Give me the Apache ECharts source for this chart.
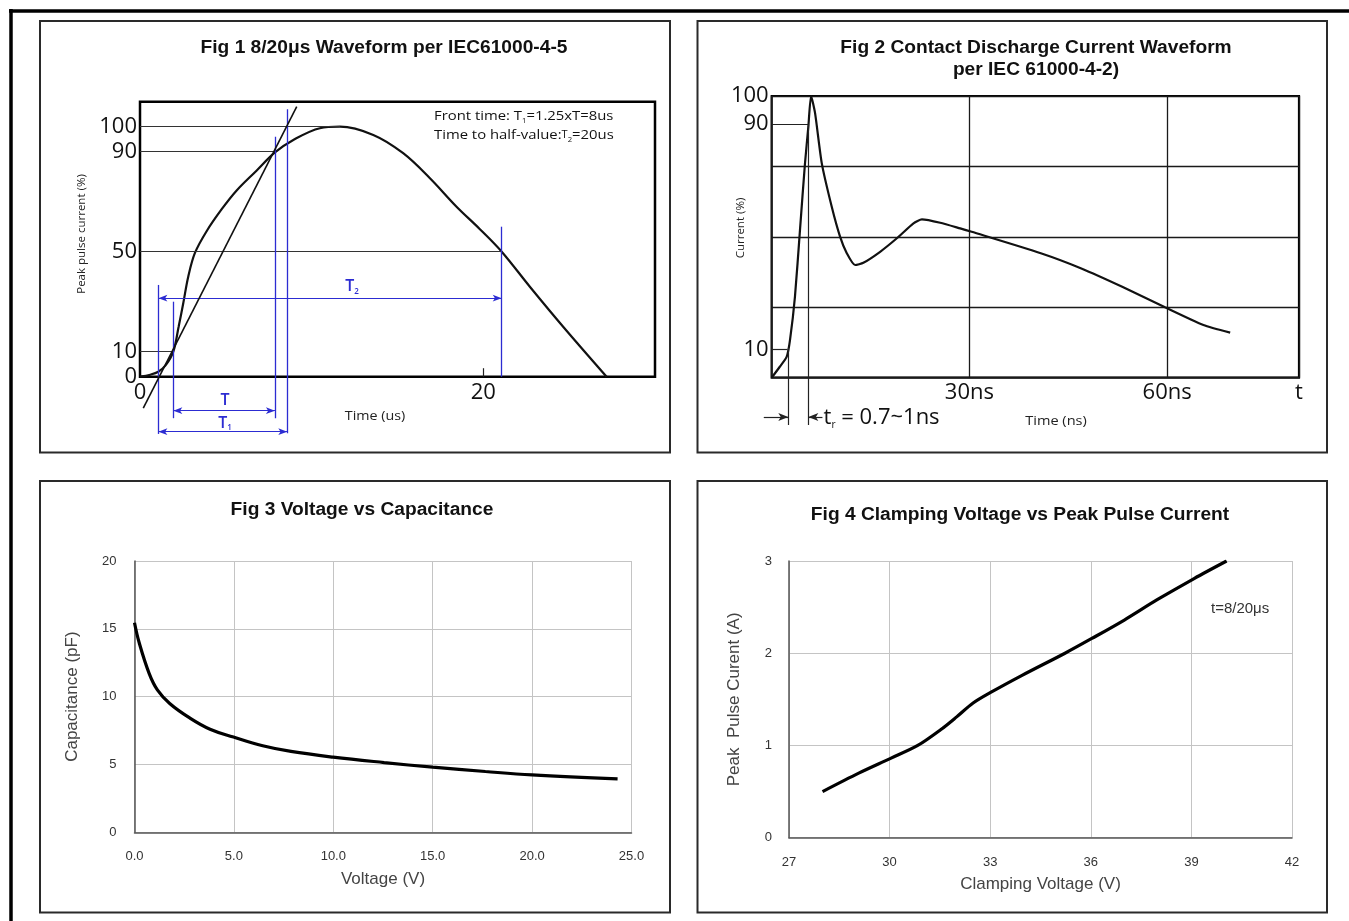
<!DOCTYPE html>
<html>
<head>
<meta charset="UTF-8">
<title>TVS characteristic curves</title>
<script src="https://cdn.jsdelivr.net/npm/echarts@6/dist/echarts.min.js"></script>
<style>
    * { margin: 0; padding: 0; }
    body { background: #fff; }
    #main { width: 1349px; height: 921px; }
</style>
</head>
<body>
<div id="main"></div>
<script>
// ---- Fig 1: 8/20us surge, [time (us), current (%)]
var fig1Wave = [[0, 0], [0.6, 0.8], [1.07, 2], [1.5, 4.6], [1.94, 10], [2.25, 20], [2.52, 29.4], [2.81, 40],
    [3.2, 49.5], [3.88, 58.2], [4.76, 67], [5.63, 74.5], [6.8, 82.5], [7.86, 89.7], [8.93, 94.7], [10.48, 99.4],
    [11.65, 100], [13.59, 96.7], [15.33, 89.4], [16.89, 79.4], [18.44, 68], [19.8, 59], [21.07, 50],
    [22.71, 36], [24.65, 20], [27.18, 0]];
var fig1RefLevel = [100, 90, 50, 10];
var fig1RefEnd = [11.65, 7.86, 21.07, 1.94];
var fig1XTicks = [0, 20];
var fig1YTicks = [0, 10, 50, 90, 100];
// O1, 10%, 90%, end of T1, half value
var fig1MarkX = [1.07, 1.94, 7.86, 8.58, 21.07];
var fig1MarkTop = [36.7, 30, 96, 107, 60];
var fig1MarkBottom = [-22.9, -16.6, -16.6, -22.6, 0];
var fig1Tangent = [[0.19, -12.6], [9.13, 108]];
var fig1Labels = [
    { name: 'T2', value: [12.35, 36] },
    { name: 'T', value: [4.95, -9.3] },
    { name: 'T1', value: [4.95, -18.5] }
];

// ---- Fig 2: ESD contact discharge, [time (ns), current (%)]
var fig2Wave = [[0, 0], [1.2, 3.8], [2.28, 7.5], [2.78, 13.4], [3.53, 28.8], [4.29, 52.4], [5.05, 76.1],
    [5.56, 89.1], [5.97, 100], [6.58, 93.9], [7.6, 76.1], [9.11, 60.7], [10.37, 50.1], [11.39, 44.2],
    [12.65, 40], [13.91, 40.8], [16.45, 44.7], [18.99, 49.5], [21.51, 54.8], [22.79, 56.2], [25.57, 55],
    [28.6, 53], [30.34, 51.8], [40.83, 44.2], [46.98, 38.8], [53.18, 32.3], [59.67, 25], [65.5, 18.7],
    [69.56, 16]];
var fig2RefLevel = [90, 10];
var fig2RefEnd = [5.56, 2.4];
var fig2XTicks = [30, 60, 80];
var fig2XNames = ['30ns', '60ns', 't'];
var fig2YTicks = [10, 90, 100];
var fig2RiseX = [2.52, 5.56];
var fig2RiseTop = [10.6, 90];

// ---- Fig 3: capacitance vs voltage
var fig3Volt = [0, 0.24, 0.74, 1.15, 1.77, 2.78, 3.8, 4.98, 6.45, 7.87, 9.99, 12.56, 15, 17.65, 20, 24.3];
var fig3Cap = [15.45, 13.95, 11.7, 10.5, 9.5, 8.43, 7.6, 7.02, 6.38, 5.96, 5.54, 5.14, 4.8, 4.48, 4.23, 3.94];

// ---- Fig 4: clamping voltage vs peak pulse current
var fig4Volt = [28.0, 29.08, 30.03, 30.84, 31.52, 32.0, 32.49, 33.04, 33.95, 35.23, 36.03, 37.0, 37.98, 39.08, 40.05];
var fig4Curr = [0.5, 0.7, 0.86, 1.0, 1.17, 1.31, 1.46, 1.58, 1.76, 2.0, 2.16, 2.36, 2.58, 2.81, 3.0];

var blue = '#2c2cd2';
var waveFont = 'Open Sans';
var sheetFont = 'Liberation Sans';

function zip(a, b) {
    var out = [];
    for (var i = 0; i < a.length; i++) out.push([a[i], b[i]]);
    return out;
}

function seg(p1, p2, color, width, arrows) {
    var a = arrows || ['none', 'none'];
    return [
        { coord: p1, symbol: a[0], lineStyle: { color: color, width: width, type: 'solid' } },
        { coord: p2, symbol: a[1] }
    ];
}

// fig 1 marker lines
var fig1Refs = fig1RefLevel.map(function (v, i) {
    return seg([0, v], [fig1RefEnd[i], v], '#333', 1);
});
fig1Refs.push(seg([20, 0], [20, 3.4], '#222', 1.2));

var fig1Blue = fig1MarkX.map(function (x, i) {
    return seg([x, fig1MarkTop[i]], [x, fig1MarkBottom[i]], blue, 1.3);
});
var arrowEnds = ['arrow', 'arrow'];
fig1Blue.push(seg([fig1MarkX[0], 31.4], [fig1MarkX[4], 31.4], blue, 1.1, arrowEnds));
fig1Blue.push(seg([fig1MarkX[1], -13.6], [fig1MarkX[2], -13.6], blue, 1.1, arrowEnds));
fig1Blue.push(seg([fig1MarkX[0], -22], [fig1MarkX[3], -22], blue, 1.1, arrowEnds));
fig1Blue.push(seg(fig1Tangent[0], fig1Tangent[1], '#111', 1.6));

// fig 2 marker lines
var fig2Refs = fig2RefLevel.map(function (v, i) {
    return seg([0, v], [fig2RefEnd[i], v], '#222', 1.2);
});
var fig2Rise = fig2RiseX.map(function (x, i) {
    return seg([x, fig2RiseTop[i]], [x, -16.8], '#222', 1.2);
});
fig2Rise.push(seg([-1.2, -14], [fig2RiseX[0], -14], '#222', 1.2, ['none', 'arrow']));
fig2Rise.push(seg([7.7, -14], [fig2RiseX[1], -14], '#222', 1.2, ['none', 'arrow']));

var subRich = {
    m: { fontSize: 16, fontFamily: waveFont, fontWeight: 600, color: blue, lineHeight: 18, verticalAlign: 'middle' },
    s: { fontSize: 8, fontFamily: waveFont, fontWeight: 600, color: blue, lineHeight: 6, verticalAlign: 'bottom' }
};

function text(x, y, str, font, color, extra) {
    var el = {
        type: 'text', x: x, y: y,
        style: {
            text: str, font: font, fill: color,
            align: 'center', verticalAlign: 'middle',
            textAlign: 'center', textVerticalAlign: 'middle'
        }
    };
    if (extra) {
        for (var k in extra) {
            if (k === 'style') {
                for (var s in extra.style) el.style[s] = extra.style[s];
            } else {
                el[k] = extra[k];
            }
        }
    }
    return el;
}

function panel(x, y, w, h) {
    return { type: 'rect', shape: { x: x, y: y, width: w, height: h }, style: { fill: 'none', stroke: '#2a2a2a', lineWidth: 2 } };
}

var noteRich = {
    m: { fontSize: 13.5, fontFamily: waveFont, color: '#111', lineHeight: 16, verticalAlign: 'middle' },
    t: { fontSize: 10, fontFamily: waveFont, color: '#111', lineHeight: 16, verticalAlign: 'middle' },
    s: { fontSize: 7, fontFamily: waveFont, color: '#111', lineHeight: 6, verticalAlign: 'bottom' }
};

var titleFont = 'bold 18px "Liberation Sans"';
var stretch = { scaleX: 1.065 };
var smallFont = '13px "Open Sans"';
var graphics = [
    { type: 'line', shape: { x1: 9, y1: 11, x2: 1349, y2: 11 }, style: { stroke: '#000', lineWidth: 3.5 } },
    { type: 'line', shape: { x1: 11, y1: 9, x2: 11, y2: 921 }, style: { stroke: '#000', lineWidth: 3.5 } },
    panel(40, 21, 630, 431.5),
    panel(697.5, 21, 629.5, 431.5),
    panel(40, 481, 630, 431.5),
    panel(697.5, 481, 629.5, 431.5),
    text(384, 48, 'Fig 1 8/20\u03bcs Waveform per IEC61000-4-5', titleFont, '#111', stretch),
    text(1036, 48, 'Fig 2 Contact Discharge Current Waveform', titleFont, '#111', stretch),
    text(1036, 70, 'per IEC 61000-4-2)', titleFont, '#111', stretch),
    text(362, 510, 'Fig 3 Voltage vs Capacitance', titleFont, '#111', stretch),
    text(1020, 515, 'Fig 4 Clamping Voltage vs Peak Pulse Current', titleFont, '#111', stretch),
    text(82, 234, 'Peak pulse current (%)', '11.5px "Open Sans"', '#222', { rotation: Math.PI / 2 }),
    text(375, 416, 'Time (us)', smallFont, '#222', { scaleX: 1.1 }),
    text(741, 228, 'Current (%)', '11.5px "Open Sans"', '#222', { rotation: Math.PI / 2 }),
    text(1056, 421, 'Time (ns)', smallFont, '#222', { scaleX: 1.12 }),
    text(434, 116, '{m|Front time: T}{s|1}{m|=1.25xT=8us}', '13.5px "Open Sans"', '#111',
        { scaleX: 1.1, style: { rich: noteRich, align: 'left', textAlign: 'left' } }),
    text(434, 135, '{m|Time to half-value:}{t|T}{s|2}{m|=20us}', '13.5px "Open Sans"', '#111',
        { scaleX: 1.1, style: { rich: noteRich, align: 'left', textAlign: 'left' } }),
    text(1211, 609, 't=8/20\u03bcs', '15px "Liberation Sans"', '#333', { style: { align: 'left', textAlign: 'left' } })
];

function labelStyle(extra) {
    var o = { fontSize: 22, fontFamily: waveFont, color: '#111' };
    for (var k in extra) o[k] = extra[k];
    return o;
}
var sheetName = { fontSize: 17, fontFamily: sheetFont, color: '#444' };
var sheetAxisLine = { show: true, lineStyle: { color: '#555', width: 1.5 } };
var sheetSplit = { show: true, lineStyle: { color: '#c4c4c4', width: 1 } };
function sheetLabel(margin, fmt) {
    var o = { margin: margin, fontSize: 13, fontFamily: sheetFont, color: '#333' };
    if (fmt) o.formatter = fmt;
    return o;
}

var myChart = echarts.init(document.getElementById('main'));

var option = {
    animation: false,
    backgroundColor: '#fff',
    graphic: { elements: graphics },
    grid: [
        { left: 140, top: 101.7, width: 515, height: 275, show: true, borderColor: '#000', borderWidth: 2.5, outerBoundsMode: 'none' },
        { left: 140, top: 101.7, width: 515, height: 337.5, outerBoundsMode: 'none' },
        { left: 771.7, top: 96, width: 527.3, height: 281.7, show: true, borderColor: '#000', borderWidth: 2.2, outerBoundsMode: 'none' },
        { left: 758.5, top: 96, width: 540.5, height: 338, outerBoundsMode: 'none' },
        { left: 134.5, top: 561, width: 497, height: 271.3, outerBoundsMode: 'none' },
        { left: 789, top: 561, width: 503, height: 276.7, outerBoundsMode: 'none' }
    ],
    xAxis: [
        {
            gridIndex: 0, type: 'value', min: 0, max: 30,
            axisLine: { show: false }, axisTick: { show: false }, splitLine: { show: false },
            axisLabel: labelStyle({ customValues: fig1XTicks, margin: 5 })
        },
        { gridIndex: 1, type: 'value', min: 0, max: 30, show: false },
        {
            gridIndex: 2, type: 'value', min: 0, max: 80, interval: 30,
            axisLine: { show: false }, axisTick: { show: false },
            splitLine: { show: true, lineStyle: { color: '#1a1a1a', width: 1.3 } },
            axisLabel: labelStyle({
                customValues: fig2XTicks, margin: 4,
                formatter: function (v) { return fig2XNames[fig2XTicks.indexOf(v)]; }
            })
        },
        { gridIndex: 3, type: 'value', min: -2, max: 80, show: false },
        {
            gridIndex: 4, type: 'value', min: 0, max: 25, interval: 5,
            axisLine: sheetAxisLine, axisTick: { show: false }, splitLine: sheetSplit,
            axisLabel: sheetLabel(18, function (v) { return v.toFixed(1); }),
            name: 'Voltage (V)', nameLocation: 'middle', nameGap: 39, nameMoveOverlap: false,
            nameTextStyle: sheetName
        },
        {
            gridIndex: 5, type: 'value', min: 27, max: 42, interval: 3,
            axisLine: sheetAxisLine, axisTick: { show: false }, splitLine: sheetSplit,
            axisLabel: sheetLabel(18),
            name: 'Clamping Voltage (V)', nameLocation: 'middle', nameGap: 38, nameMoveOverlap: false,
            nameTextStyle: sheetName
        }
    ],
    yAxis: [
        {
            gridIndex: 0, type: 'value', min: 0, max: 110,
            axisLine: { show: false }, axisTick: { show: false }, splitLine: { show: false },
            axisLabel: labelStyle({ customValues: fig1YTicks, margin: 3 })
        },
        { gridIndex: 1, type: 'value', min: -25, max: 110, show: false },
        {
            gridIndex: 2, type: 'value', min: 0, max: 100, interval: 25,
            axisLine: { show: false }, axisTick: { show: false },
            splitLine: { show: true, lineStyle: { color: '#1a1a1a', width: 1.3 } },
            axisLabel: labelStyle({ customValues: fig2YTicks, margin: 3 })
        },
        { gridIndex: 3, type: 'value', min: -20, max: 100, show: false },
        {
            gridIndex: 4, type: 'value', min: 0, max: 20, interval: 5,
            axisLine: sheetAxisLine, axisTick: { show: false }, splitLine: sheetSplit,
            axisLabel: sheetLabel(18),
            name: 'Capacitance (pF)', nameLocation: 'middle', nameGap: 54, nameMoveOverlap: false,
            nameTextStyle: sheetName
        },
        {
            gridIndex: 5, type: 'value', min: 0, max: 3, interval: 1,
            axisLine: sheetAxisLine, axisTick: { show: false }, splitLine: sheetSplit,
            axisLabel: sheetLabel(17),
            name: 'Peak  Pulse Curent (A)', nameLocation: 'middle', nameGap: 46, nameMoveOverlap: false,
            nameTextStyle: sheetName
        }
    ],
    series: [
        {
            name: 'fig1', type: 'line', xAxisIndex: 0, yAxisIndex: 0,
            data: fig1Wave, smooth: 0.35, symbol: 'none',
            lineStyle: { color: '#111', width: 2.2 },
            markLine: { silent: true, symbol: 'none', label: { show: false }, data: fig1Refs }
        },
        {
            name: 'fig1 notes', type: 'scatter', xAxisIndex: 1, yAxisIndex: 1,
            data: fig1Labels, symbolSize: 1, itemStyle: { color: '#fff', opacity: 1 }, silent: true,
            label: {
                show: true, position: 'inside', rich: subRich, color: blue, opacity: 1,
                formatter: function (p) {
                    return p.name.length > 1 ? '{m|T}{s|' + p.name.slice(1) + '}' : '{m|T}';
                }
            },
            markLine: {
                silent: true, symbol: 'none', symbolSize: [5, 9], label: { show: false },
                data: fig1Blue
            }
        },
        {
            name: 'fig2', type: 'line', xAxisIndex: 2, yAxisIndex: 2,
            data: fig2Wave, smooth: 0.2, symbol: 'none',
            lineStyle: { color: '#111', width: 2.2 },
            markLine: { silent: true, symbol: 'none', label: { show: false }, data: fig2Refs }
        },
        {
            name: 'fig2 notes', type: 'scatter', xAxisIndex: 3, yAxisIndex: 3,
            data: [{ name: 'tr', value: [7.8, -14.3] }], symbolSize: 1,
            itemStyle: { color: '#fff', opacity: 1 }, silent: true,
            label: {
                show: true, position: 'right', distance: 0, color: '#111', opacity: 1,
                formatter: '{m|t}{s|r}{m| = 0.7~1ns}',
                rich: {
                    m: { fontSize: 22, fontFamily: waveFont, color: '#111', lineHeight: 24, verticalAlign: 'middle' },
                    s: { fontSize: 10, fontFamily: waveFont, color: '#111', lineHeight: 8, verticalAlign: 'bottom' }
                }
            },
            markLine: {
                silent: true, symbol: 'none', symbolSize: [6, 10], label: { show: false },
                data: fig2Rise
            }
        },
        {
            name: 'fig3', type: 'line', xAxisIndex: 4, yAxisIndex: 4,
            data: zip(fig3Volt, fig3Cap), smooth: 0.4, symbol: 'none',
            lineStyle: { color: '#000', width: 3.2 }
        },
        {
            name: 'fig4', type: 'line', xAxisIndex: 5, yAxisIndex: 5,
            data: zip(fig4Volt, fig4Curr), smooth: 0.3, symbol: 'none',
            lineStyle: { color: '#000', width: 3.2 }
        }
    ]
};

myChart.setOption(option);
</script>
</body>
</html>
